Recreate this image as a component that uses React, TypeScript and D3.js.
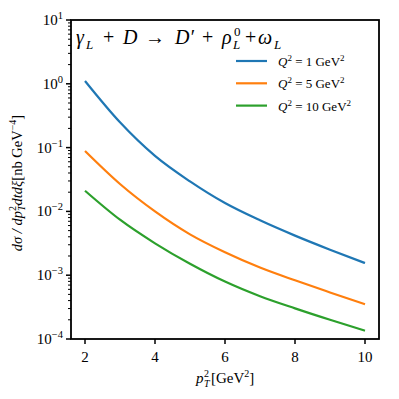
import React, { useRef, useEffect } from "react";
import * as d3 from "d3";

// p_T^2 in GeV^2, cross section in nb GeV^-4
const pT2 = [2, 3, 4, 5, 6, 7, 8, 9, 10];
const seriesQ1 = [1.107, 0.249, 0.0741, 0.0295, 0.0135, 0.00724, 0.00417, 0.00251, 0.00155];
const seriesQ5 = [0.0885, 0.0269, 0.01, 0.00437, 0.00229, 0.00132, 0.000832, 0.000537, 0.00035];
const seriesQ10 = [0.0211, 0.00741, 0.00316, 0.00151, 0.000794, 0.000468, 0.000302, 0.0002, 0.000135];
const seriesNames = ["1", "5", "10"];
const colors = ["#1f77b4", "#ff7f0e", "#2ca02c"];
const xTicks = [2, 4, 6, 8, 10];
const yExponents = [-4, -3, -2, -1, 0, 1];

const FONT = "'Liberation Serif', 'DejaVu Serif', serif";

const App = () => {
  const svgRef = useRef<SVGSVGElement | null>(null);

  useEffect(() => {
    const svg = d3.select(svgRef.current);
    svg.selectAll("*").remove();
    const width = 399,
      height = 399,
      margin = { top: 20, right: 20, bottom: 60, left: 71 };

    const x = d3.scaleLinear().domain([1.6, 10.4]).range([margin.left, width - margin.right]);
    const y = d3.scaleLog().domain([1e-4, 10]).range([height - margin.bottom, margin.top]);

    const line = d3
      .line<number>()
      .x((d, i) => x(pT2[i]))
      .y((d) => y(d))
      .curve(d3.curveMonotoneX);

    [seriesQ1, seriesQ5, seriesQ10].forEach((s, k) => {
      svg
        .append("path")
        .datum(s)
        .attr("d", line)
        .attr("fill", "none")
        .attr("stroke", colors[k])
        .attr("stroke-width", 2.2);
    });

    // frame
    svg
      .append("rect")
      .attr("x", margin.left)
      .attr("y", margin.top)
      .attr("width", width - margin.left - margin.right)
      .attr("height", height - margin.top - margin.bottom)
      .attr("fill", "none")
      .attr("stroke", "#000")
      .attr("stroke-width", 1.8);

    // x ticks
    const xb = height - margin.bottom;
    xTicks.forEach((t) => {
      svg.append("line").attr("x1", x(t)).attr("x2", x(t)).attr("y1", xb).attr("y2", xb + 5)
        .attr("stroke", "#000").attr("stroke-width", 1.5);
      svg.append("text").attr("x", x(t)).attr("y", xb + 23).attr("text-anchor", "middle")
        .style("font-family", FONT).style("font-size", "15px").text(t);
    });

    // y ticks (major + minor)
    yExponents.forEach((e) => {
      const v = Math.pow(10, e);
      svg.append("line").attr("x1", margin.left - 5).attr("x2", margin.left)
        .attr("y1", y(v)).attr("y2", y(v)).attr("stroke", "#000").attr("stroke-width", 1.5);
      const txt = svg.append("text").attr("x", margin.left - 8).attr("y", y(v) + 5)
        .attr("text-anchor", "end").style("font-family", FONT).style("font-size", "15px");
      txt.append("tspan").text("10");
      txt.append("tspan").attr("dy", -6).style("font-size", "10.5px").text(e < 0 ? "\u2212" + -e : String(e));
      if (e < 1) {
        for (let m = 2; m <= 9; m++) {
          const mv = m * v;
          svg.append("line").attr("x1", margin.left - 3).attr("x2", margin.left)
            .attr("y1", y(mv)).attr("y2", y(mv)).attr("stroke", "#000").attr("stroke-width", 1);
        }
      }
    });

    // x label
    const xl = svg.append("text").attr("x", 196).attr("y", 383)
      .style("font-family", FONT).style("font-size", "15px");
    xl.append("tspan").style("font-style", "italic").text("p");
    xl.append("tspan").attr("x", 204).attr("dy", -6).style("font-size", "10px").text("2");
    xl.append("tspan").attr("x", 204).attr("dy", 10).style("font-size", "10px").style("font-style", "italic").text("T");
    xl.append("tspan").attr("x", 211).attr("dy", -4).text("[GeV");
    xl.append("tspan").attr("dy", -6).style("font-size", "10px").text("2");
    xl.append("tspan").attr("dy", 6).text("]");

    // y label
    const yl = svg.append("text").attr("transform", "translate(22,183) rotate(-90)")
      .attr("text-anchor", "middle").style("font-family", FONT).style("font-size", "14.5px");
    yl.append("tspan").style("font-style", "italic").text("d\u03c3 / dp");
    yl.append("tspan").attr("dy", -6).style("font-size", "10px").text("2");
    yl.append("tspan").attr("dx", -5).attr("dy", 9).style("font-size", "10px").style("font-style", "italic").text("T");
    yl.append("tspan").attr("dy", -3).style("font-style", "italic").text("dtd\u03be");
    yl.append("tspan").text("[nb GeV");
    yl.append("tspan").attr("dy", -6).style("font-size", "10px").text("\u22124");
    yl.append("tspan").attr("dy", 6).text("]");

    // title
    const ty = 44;
    const tt = svg.append("text").attr("y", ty).style("font-family", FONT).style("font-size", "20px");
    const part = (tx: number, s: string, opts: { it?: boolean; sub?: boolean; sup?: boolean } = {}) => {
      tt.append("tspan")
        .attr("x", tx)
        .attr("y", opts.sub ? ty + 5 : opts.sup ? ty - 8 : ty)
        .style("font-style", opts.it ? "italic" : "normal")
        .style("font-size", opts.sub || opts.sup ? "13px" : "20px")
        .text(s);
    };
    part(76, "\u03b3", { it: true });
    part(86, "L", { it: true, sub: true });
    part(103, "+");
    part(123, "D", { it: true });
    part(145, "\u2192");
    part(175, "D\u2032", { it: true });
    part(202, "+");
    part(222, "\u03c1", { it: true });
    part(234, "0", { sup: true });
    part(233, "L", { it: true, sub: true });
    part(245, "+");
    part(258, "\u03c9", { it: true });
    part(274, "L", { it: true, sub: true });

    // legend
    seriesNames.forEach((n, k) => {
      const ly = 61 + k * 22.3;
      svg.append("line").attr("x1", 236).attr("x2", 267).attr("y1", ly).attr("y2", ly)
        .attr("stroke", colors[k]).attr("stroke-width", 2.2);
      const lt = svg.append("text").attr("x", 278).attr("y", ly + 5)
        .style("font-family", FONT).style("font-size", "13px");
      lt.append("tspan").style("font-style", "italic").text("Q");
      lt.append("tspan").attr("dy", -5).style("font-size", "9px").text("2");
      lt.append("tspan").attr("dy", 5).text(" = " + n + " GeV");
      lt.append("tspan").attr("dy", -5).style("font-size", "9px").text("2");
    });
  }, []);

  return (
    <div style={{ width: 399, height: 399, margin: -8 }}>
      <svg ref={svgRef} width={399} height={399} style={{ display: "block", background: "#fff" }}></svg>
    </div>
  );
};

export default App;
